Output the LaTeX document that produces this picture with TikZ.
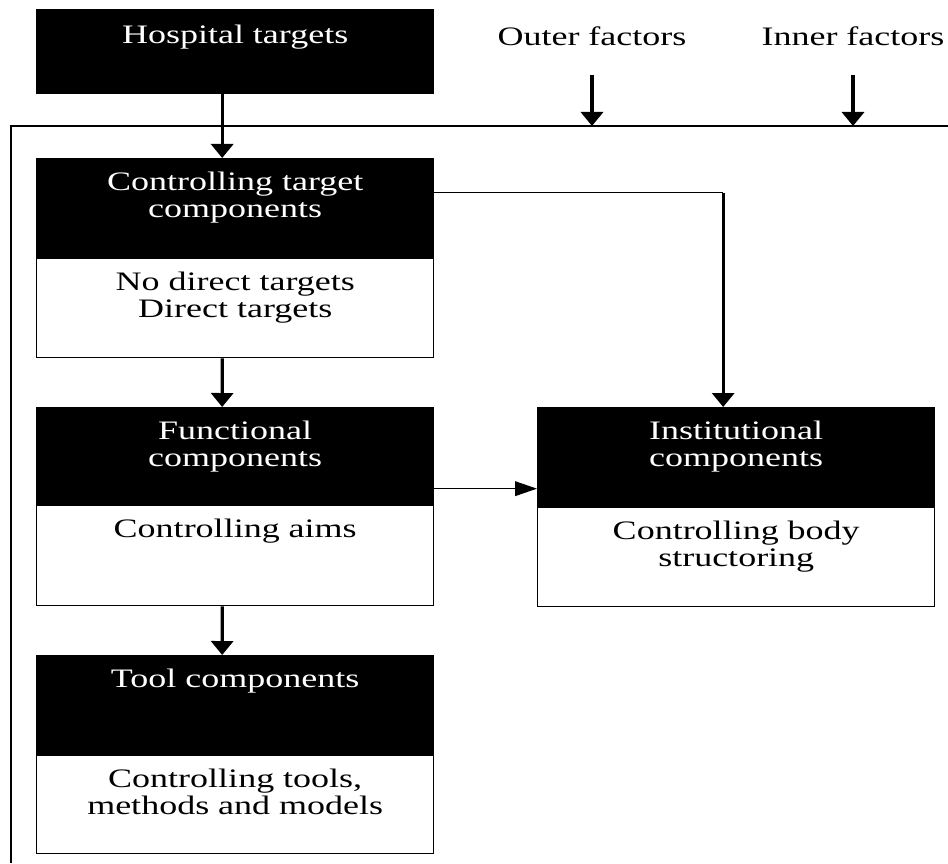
\documentclass[tikz,border=0pt]{standalone}
\usepackage{fontspec}
\setmainfont{Liberation Serif}[FakeStretch=1.35]
\usetikzlibrary{arrows.meta}
\begin{document}
\begin{tikzpicture}[x=0.75pt,y=-0.75pt,
  hdr/.style={draw=black,fill=black,line width=1pt,minimum width=297.75pt,
    minimum height=75pt,inner sep=0pt,anchor=north west},
  bdy/.style={draw=black,fill=white,line width=1.1pt,minimum width=297.75pt,
    minimum height=74.25pt,inner sep=0pt,anchor=north west},
  lbl/.style={align=center,inner sep=0pt,anchor=north,
    font=\fontsize{20}{20.25}\selectfont},
  htext/.style={lbl,text=white},
  btext/.style={lbl,text=black},
  frameline/.style={line width=1.1pt},
  varrow/.style={line width=2.5pt,-{Triangle[length=10.5pt,width=16.5pt]}},
  harrow/.style={line width=1.1pt,-{Triangle[length=16.5pt,width=11pt]}},
  link/.style={line width=1.1pt}
]
\useasboundingbox (0,0) rectangle (948,863);

% outer frame (open to the right and bottom)
\coordinate (ftop) at (11,126);
\draw[frameline] (11,863) -- (ftop) -- (948,126);

% hospital targets
\node[hdr,minimum height=63pt] (hosp) at (36,9) {};
\node[htext] (hospT) at ([yshift=-12pt]hosp.north) {Hospital targets};

% factor labels
\node[btext] (outer) at (592,26) {Outer factors};
\node[btext] (inner) at (853,26) {Inner factors};
\coordinate (outerStart) at (592,75);
\coordinate (innerStart) at (853,75);

% controlling target components
\node[hdr] (ctcH) at (36,158) {};
\node[bdy] (ctcB) at (36,258) {};
\node[htext] (ctcHT) at ([yshift=-10.5pt]ctcH.north) {Controlling target\\components};
\node[btext] (ctcBT) at ([yshift=-10.5pt]ctcB.north) {No direct targets\\Direct targets};

% functional components
\node[hdr,minimum height=73.5pt] (funH) at (36,407) {};
\node[bdy,minimum height=75pt] (funB) at (36,505) {};
\node[htext] (funHT) at ([yshift=-10.5pt]funH.north) {Functional\\components};
\node[btext] (funBT) at ([yshift=-10.5pt]funB.north) {Controlling aims};

% institutional components
\node[hdr] (instH) at (537,407) {};
\node[bdy] (instB) at (537,507) {};
\node[htext] (instHT) at ([yshift=-10.5pt]instH.north) {Institutional\\components};
\node[btext] (instBT) at ([yshift=-10.5pt]instB.north) {Controlling body\\structoring};

% tool components
\node[hdr] (toolH) at (36,655) {};
\node[bdy,minimum height=73.5pt] (toolB) at (36,755) {};
\node[htext] (toolHT) at ([yshift=-10.5pt]toolH.north) {Tool components};
\node[btext] (toolBT) at ([yshift=-10.5pt]toolB.north) {Controlling tools,\\methods and models};

% connectors
\draw[varrow] (outerStart) -- (outerStart |- ftop);
\draw[varrow] (innerStart) -- (innerStart |- ftop);
\draw[varrow] ([xshift=-9.75pt]hosp.south) -- ([xshift=-9.75pt]ctcH.north);
\draw[varrow] ([xshift=-9.75pt]ctcB.south) -- ([xshift=-9.75pt]funH.north);
\draw[varrow] ([xshift=-9.75pt]funB.south) -- ([xshift=-9.75pt]toolH.north);
\coordinate (ctcOut) at ([yshift=12pt]ctcH.east);
\coordinate (instIn) at ([xshift=-9.75pt]instH.north);
\coordinate (bend) at (instIn |- ctcOut);
\draw[link] (ctcOut) -- (bend);
\draw[varrow] (bend) -- (instIn);
\coordinate (funOut) at ([yshift=-24pt]funH.east);
\draw[harrow] (funOut) -- (funOut -| instH.west);
\end{tikzpicture}
\end{document}
